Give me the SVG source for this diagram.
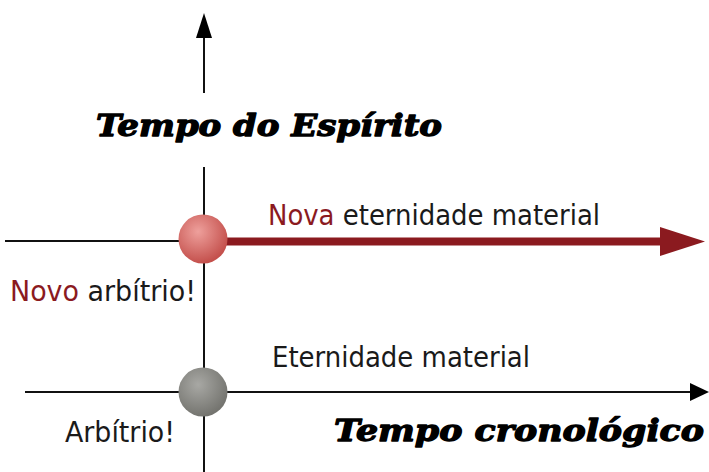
<svg xmlns="http://www.w3.org/2000/svg" width="709" height="472" viewBox="0 0 709 472">
<style>
.ax{stroke:#111;stroke-width:2;fill:none}
.lbl{font-family:"DejaVu Sans Condensed","DejaVu Sans",sans-serif;font-size:28px;fill:#1a1a1a}
.red{fill:#8b1a1f}
.ttl{font-family:"DejaVu Serif",serif;font-weight:bold;font-style:italic;font-size:30px;fill:#000;stroke:#000;stroke-width:1.3;stroke-linejoin:round}
</style>
<defs>
<radialGradient id="gr" cx="0.4" cy="0.35" r="0.65">
<stop offset="0" stop-color="#eea09c"/>
<stop offset="1" stop-color="#c4504c"/>
</radialGradient>
<radialGradient id="gg" cx="0.4" cy="0.35" r="0.65">
<stop offset="0" stop-color="#a8a8a4"/>
<stop offset="1" stop-color="#74746f"/>
</radialGradient>
</defs>
<g id="connectors">
<line class="ax" x1="204" y1="36" x2="204" y2="93"/>
<polygon points="204,13 196,38 212,38" fill="#000"/>
<line class="ax" x1="204" y1="167" x2="204" y2="472"/>
<line class="ax" x1="5" y1="241" x2="185" y2="241"/>
<line x1="225" y1="241.5" x2="662" y2="241.5" stroke="#8b1a1f" stroke-width="8"/>
<polygon points="660,227 705,241.5 660,256" fill="#8b1a1f"/>
<line class="ax" x1="25" y1="392" x2="692" y2="392"/>
<polygon points="690,383 709,392 690,401" fill="#000"/>
</g>
<g id="node-novo">
<circle cx="203" cy="239" r="24.5" fill="url(#gr)"/>
</g>
<g id="node-arbitrio">
<circle cx="203" cy="392" r="24.5" fill="url(#gg)"/>
</g>
<g id="labels">
<text class="ttl" x="96" y="136" textLength="346" lengthAdjust="spacingAndGlyphs">Tempo do Espírito</text>
<text class="lbl" x="268" y="225" textLength="332" lengthAdjust="spacingAndGlyphs"><tspan class="red">Nova</tspan> eternidade material</text>
<text class="lbl" x="10" y="301" textLength="186" lengthAdjust="spacingAndGlyphs"><tspan class="red">Novo</tspan> arbítrio!</text>
<text class="lbl" x="272" y="367" textLength="258" lengthAdjust="spacingAndGlyphs">Eternidade material</text>
<text class="lbl" x="65" y="442" textLength="110" lengthAdjust="spacingAndGlyphs">Arbítrio!</text>
<text class="ttl" x="334" y="441" textLength="370" lengthAdjust="spacingAndGlyphs">Tempo cronológico</text>
</g>
</svg>
